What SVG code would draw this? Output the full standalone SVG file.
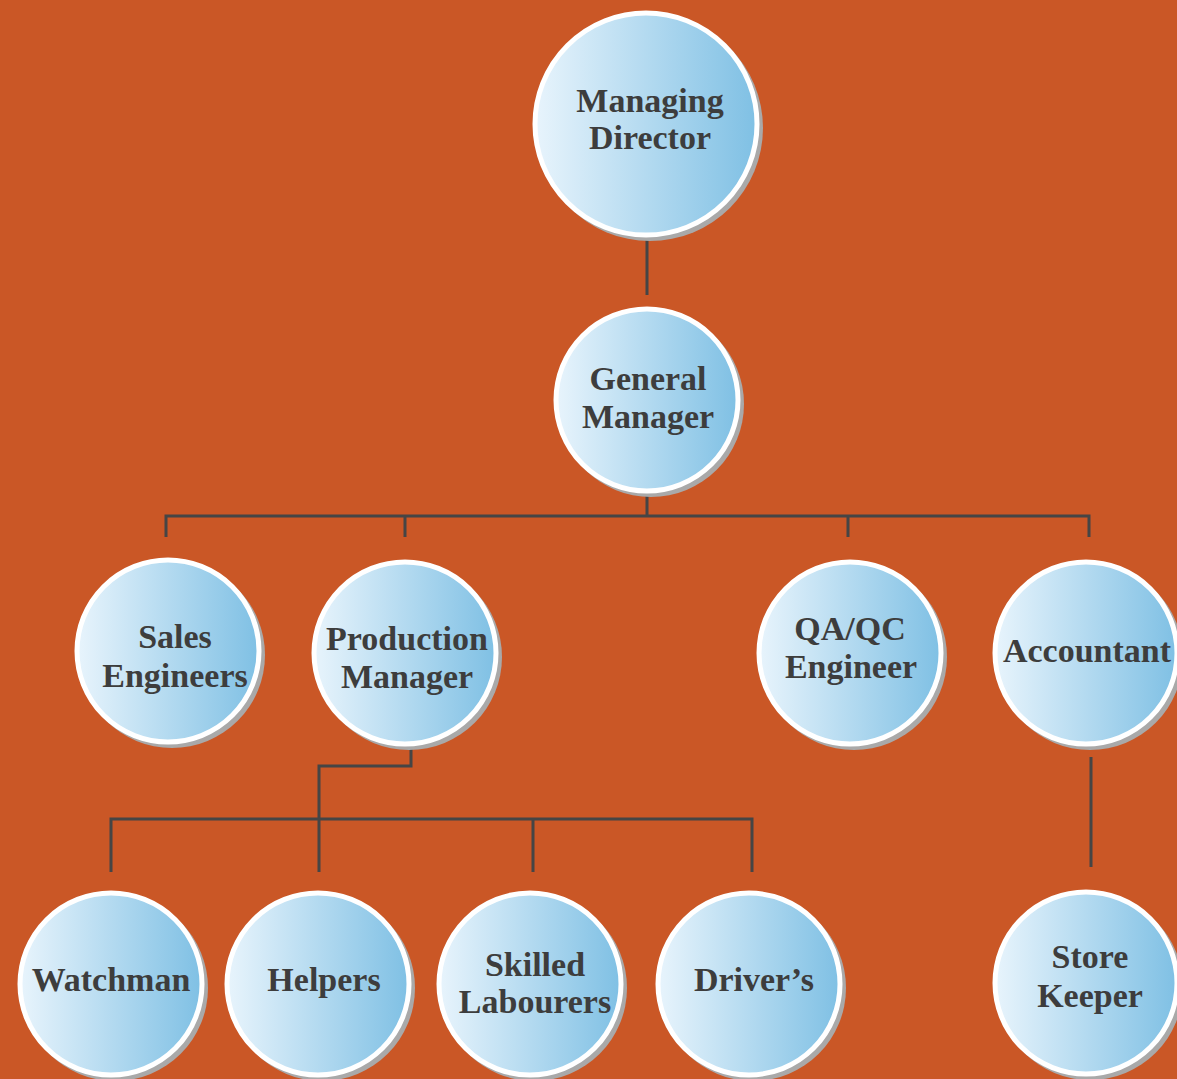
<svg xmlns="http://www.w3.org/2000/svg" width="1177" height="1079" viewBox="0 0 1177 1079">
<defs>
<linearGradient id="g" x1="0" y1="0" x2="1" y2="0">
<stop offset="0" stop-color="#e8f4fc"/>
<stop offset="1" stop-color="#7fc0e4"/>
</linearGradient>
<style>
.sh{fill:#a9a9a9}
.c{fill:url(#g);stroke:#ffffff;stroke-width:5}
.t{font-family:"Liberation Serif","Times New Roman",serif;font-weight:bold;font-size:34px;fill:#3d3d3d;text-anchor:middle}
.ln{fill:none;stroke:#454545;stroke-width:3}
</style>
</defs>
<rect width="1177" height="1079" fill="#ca5726"/>
<g id="connectors" class="ln">
<path d="M647 240V295"/>
<path d="M647 493V516M166 537V516H1089V537M405 516V537M848 516V537"/>
<path d="M411 748V766H319V872M111 872V819H752V872M533 819V872"/>
<path d="M1091 757V867"/>
</g>
<g id="md"><circle class="sh" cx="650" cy="128" r="113"/><circle class="c" cx="646" cy="124" r="111"/><text class="t" x="650" y="112">Managing</text><text class="t" x="650" y="149">Director</text></g>
<g id="gm"><circle class="sh" cx="651" cy="404" r="93"/><circle class="c" cx="647" cy="400" r="91"/><text class="t" x="648" y="390">General</text><text class="t" x="648" y="428">Manager</text></g>
<g id="sales"><circle class="sh" cx="172" cy="655" r="93"/><circle class="c" cx="168" cy="651" r="91"/><text class="t" x="175" y="648">Sales</text><text class="t" x="175" y="687">Engineers</text></g>
<g id="prod"><circle class="sh" cx="409" cy="657" r="93"/><circle class="c" cx="405" cy="653" r="91"/><text class="t" x="407" y="650">Production</text><text class="t" x="407" y="688">Manager</text></g>
<g id="qa"><circle class="sh" cx="854" cy="657" r="93"/><circle class="c" cx="850" cy="653" r="91"/><text class="t" x="850" y="640">QA/QC</text><text class="t" x="851" y="678">Engineer</text></g>
<g id="acc"><circle class="sh" cx="1090" cy="657" r="93"/><circle class="c" cx="1086" cy="653" r="91"/><text class="t" x="1087" y="662">Accountant</text></g>
<g id="watch"><circle class="sh" cx="115" cy="988" r="93"/><circle class="c" cx="111" cy="984" r="91"/><text class="t" x="111" y="991">Watchman</text></g>
<g id="help"><circle class="sh" cx="322" cy="988" r="93"/><circle class="c" cx="318" cy="984" r="91"/><text class="t" x="324" y="991">Helpers</text></g>
<g id="skill"><circle class="sh" cx="534" cy="988" r="93"/><circle class="c" cx="530" cy="984" r="91"/><text class="t" x="535" y="976">Skilled</text><text class="t" x="535" y="1013">Labourers</text></g>
<g id="driver"><circle class="sh" cx="753" cy="988" r="93"/><circle class="c" cx="749" cy="984" r="91"/><text class="t" x="754" y="991">Driver’s</text></g>
<g id="store"><circle class="sh" cx="1090" cy="987" r="93"/><circle class="c" cx="1086" cy="983" r="91"/><text class="t" x="1090" y="968">Store</text><text class="t" x="1090" y="1007">Keeper</text></g>
</svg>
